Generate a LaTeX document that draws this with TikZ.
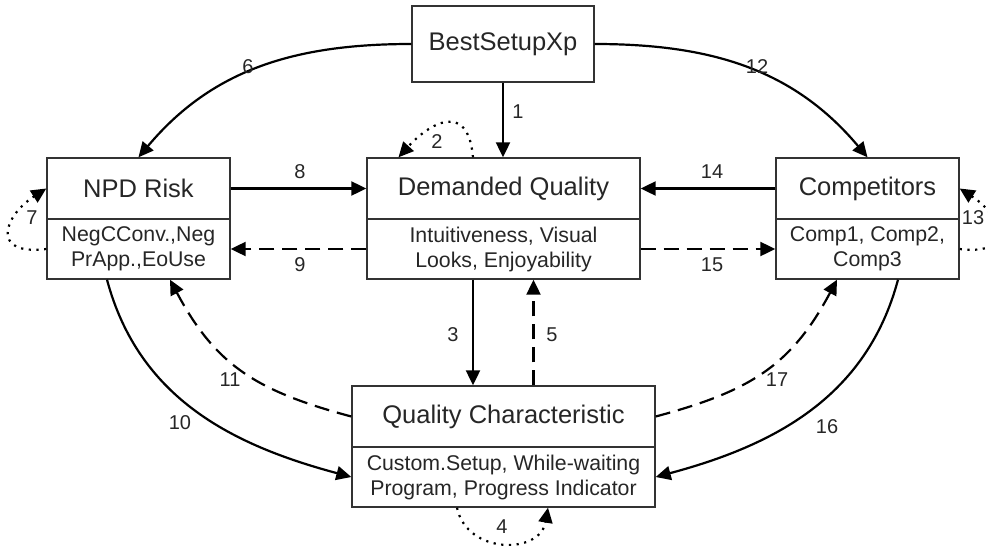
\documentclass[tikz,border=0pt]{standalone}
\usepackage{fontspec}
\setmainfont{Liberation Sans}
\usetikzlibrary{arrows.meta}

\tikzset{
  box/.style={draw=black!80, line width=1.4pt, inner sep=0pt, align=center, text=black!85},
  head/.style={box, font=\fontsize{25.5}{30}\selectfont},
  body/.style={box, font=\fontsize{21.3}{25}\selectfont},
  link/.style={line width=2.2pt, draw=black, -{Triangle[length=15pt,width=14pt]}},
  weak/.style={link, dash pattern=on 15pt off 8pt},
  self/.style={link, dash pattern=on 2.2pt off 5.5pt},
  num/.style={font=\fontsize{20}{24}\selectfont, text=black!85, inner sep=0pt},
}

\begin{document}
\begin{tikzpicture}[x=1pt, y=-1pt]
  \useasboundingbox (0,0) rectangle (988,546);

  % boxes: heading part and detail part
  \node[head, minimum width=182pt, minimum height=76pt] (bsx) at (503,44) {BestSetupXp};

  \node[head, minimum width=183pt, minimum height=61pt] (npd)  at (138.5,188.5) {NPD Risk};
  \node[body, minimum width=183pt, minimum height=60pt] (npdb) at (138.5,249) {NegCConv.,Neg\\PrApp.,EoUse};

  \node[head, minimum width=273pt, minimum height=61pt] (dq)  at (503.5,188.5) {Demanded Quality};
  \node[body, minimum width=273pt, minimum height=60pt] (dqb) at (503.5,249) {Intuitiveness, Visual\\Looks, Enjoyability};

  \node[head, minimum width=183pt, minimum height=61pt] (comp)  at (867.5,188.5) {Competitors};
  \node[body, minimum width=183pt, minimum height=60pt] (compb) at (867.5,249) {Comp1, Comp2,\\Comp3};

  \node[head, minimum width=303pt, minimum height=61pt] (qc)  at (503.5,416.5) {Quality Characteristic};
  \node[body, minimum width=303pt, minimum height=60pt] (qcb) at (503.5,477) {Custom.Setup, While-waiting\\Program, Progress Indicator};

  % straight links
  \draw[link] (bsx.south) -- (bsx.south |- dq.north);
  \draw[link] (npd.east) -- (dq.west);
  \draw[link] (comp.west) -- (dq.east);
  \draw[weak] (dqb.west) -- (npdb.east);
  \draw[weak] (dqb.east) -- (compb.west);
  \draw[link] ([xshift=-30.5pt]dqb.south) -- ([xshift=-30.5pt]qc.north);
  \draw[weak] ([xshift=30pt]qc.north) -- ([xshift=30pt]dqb.south);

  % curved links
  \draw[link] (bsx.west) to[out=180, in=50] (npd.north);
  \draw[link] (bsx.east) to[out=0, in=130] (comp.north);
  \draw[link] ([xshift=-31.5pt]npdb.south) to[out=-75, in=165] (qcb.west);
  \draw[weak] (qc.west) to[out=165, in=-62, looseness=1.1] ([xshift=31.5pt]npdb.south);
  \draw[link] ([xshift=30.5pt]compb.south) to[out=-105, in=15] (qcb.east);
  \draw[weak] (qc.east) to[out=15, in=-118, looseness=1.1] ([xshift=-30.5pt]compb.south);

  % self loops
  \draw[self] ([xshift=-30.5pt]dq.north) .. controls +(-5,-58) and +(30,-33) .. ([xshift=-105pt]dq.north);
  \draw[self] (npdb.west) .. controls +(-57,7) and +(-42,27) .. (npd.west);
  \draw[self] (compb.east) .. controls +(57,7) and +(42,27) .. (comp.east);
  \draw[self] ([xshift=-46.5pt]qcb.south) .. controls +(10,47) and +(-8,47) .. ([xshift=44.5pt]qcb.south);

  % link numbers
  \node[num] (n1)  at (518,112) {1};
  \node[num] (n2)  at (437,142) {2};
  \node[num] (n3)  at (453,335) {3};
  \node[num] (n4)  at (502,527) {4};
  \node[num] (n5)  at (552,335) {5};
  \node[num] (n6)  at (248,67)  {6};
  \node[num] (n7)  at (32,218)  {7};
  \node[num] (n8)  at (300,172) {8};
  \node[num] (n9)  at (300,265) {9};
  \node[num] (n10) at (180,423) {10};
  \node[num] (n11) at (230,380) {11};
  \node[num] (n12) at (757,67)  {12};
  \node[num] (n13) at (973,218) {13};
  \node[num] (n14) at (712,172) {14};
  \node[num] (n15) at (712,265) {15};
  \node[num] (n16) at (827,427) {16};
  \node[num] (n17) at (777,380) {17};
\end{tikzpicture}
\end{document}
